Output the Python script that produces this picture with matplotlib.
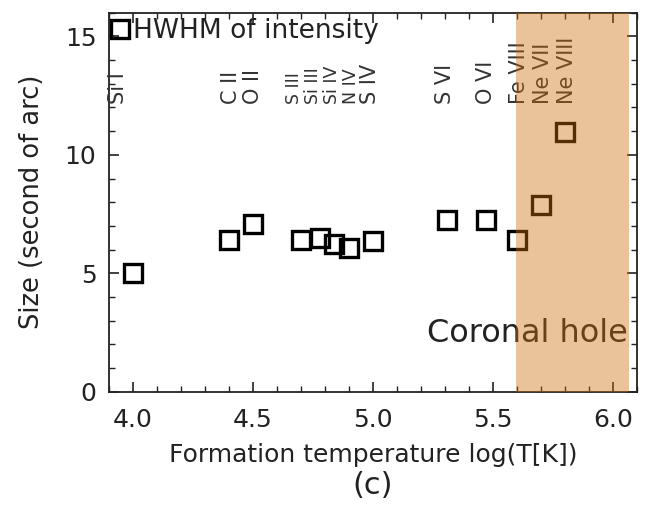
import matplotlib
matplotlib.use("Agg")
import matplotlib.pyplot as plt
from matplotlib.ticker import MultipleLocator

# formation temperature log(T[K]) and HWHM size (arcsec)
log_t = [4.00, 4.40, 4.50, 4.70, 4.78, 4.84, 4.90, 5.00, 5.31, 5.47, 5.60, 5.70, 5.80]
size = [5.0, 6.4, 7.1, 6.4, 6.5, 6.25, 6.05, 6.35, 7.25, 7.25, 6.4, 7.9, 10.95]

# ion labels written along the top
ion_x = [3.94, 4.41, 4.50, 4.67, 4.75, 4.83, 4.91, 4.99, 5.30, 5.47, 5.61, 5.71, 5.81]
ion_names = ["Si I", "C II", "O II", "S III", "Si III", "Si IV", "N IV", "S IV",
             "S VI", "O VI", "Fe VIII", "Ne VII", "Ne VIII"]
ion_size = [15, 15, 15, 12.5, 12.5, 12.5, 12.5, 15, 15, 15, 15, 15, 15]

# coronal hole shaded band
hole_lo, hole_hi = 5.597, 6.067

plt.rcParams['font.family'] = ['DejaVu Sans']
fig = plt.figure(figsize=(6.52, 5.09), dpi=100)
ax = fig.add_axes([0.167, 0.2305, 0.8096, 0.7445])

ax.plot(log_t, size, ls='none', marker='s', ms=12.5, mfc='none', mec='black',
        mew=2.4, label='HWHM of intensity', zorder=3)

for x, name, fs in zip(ion_x, ion_names, ion_size):
    ax.text(x, 12.15, name, rotation=90, ha='center', va='bottom',
            fontsize=fs, color='#333333', zorder=3)

ax.text(6.065, 2.45, "Coronal hole", ha='right', va='center', fontsize=23,
        color='#222222', zorder=3)

ax.axvspan(hole_lo, hole_hi, color='#CF6E0C', alpha=0.41, lw=0, zorder=5)

ax.set_xlim(3.9, 6.1)
ax.set_ylim(0, 16)
ax.xaxis.set_major_locator(MultipleLocator(0.5))
ax.xaxis.set_minor_locator(MultipleLocator(0.1))
ax.yaxis.set_major_locator(MultipleLocator(5))
ax.yaxis.set_minor_locator(MultipleLocator(1))
ax.xaxis.set_major_formatter(matplotlib.ticker.FormatStrFormatter('%.1f'))
ax.tick_params(which='both', direction='in', top=True, right=True,
               labelsize=18, labelcolor='#222222', color='#222222')
ax.tick_params(axis='x', pad=12)
ax.tick_params(axis='y', pad=9)
ax.tick_params(which='major', length=7, width=1.2)
ax.tick_params(which='minor', length=4, width=1.0)
for s in ax.spines.values():
    s.set_linewidth(1.3)
    s.set_color('#222222')

ax.set_xlabel("Formation temperature log(T[K])", fontsize=18, color='#222222',
              labelpad=8)
ax.set_ylabel("Size (second of arc)", fontsize=18.5, color='#222222', labelpad=14)

ax.legend(loc='upper left', bbox_to_anchor=(0.008, 0.985), frameon=False,
          fontsize=19, handlelength=0.5, handletextpad=0.25, borderaxespad=0.0,
          borderpad=0.0, labelcolor='#222222', markerscale=1.0)

fig.text(0.572, 0.046, "(c)", ha='center', va='center', fontsize=22,
         color='#222222')

fig.savefig("out.png", dpi=100)
